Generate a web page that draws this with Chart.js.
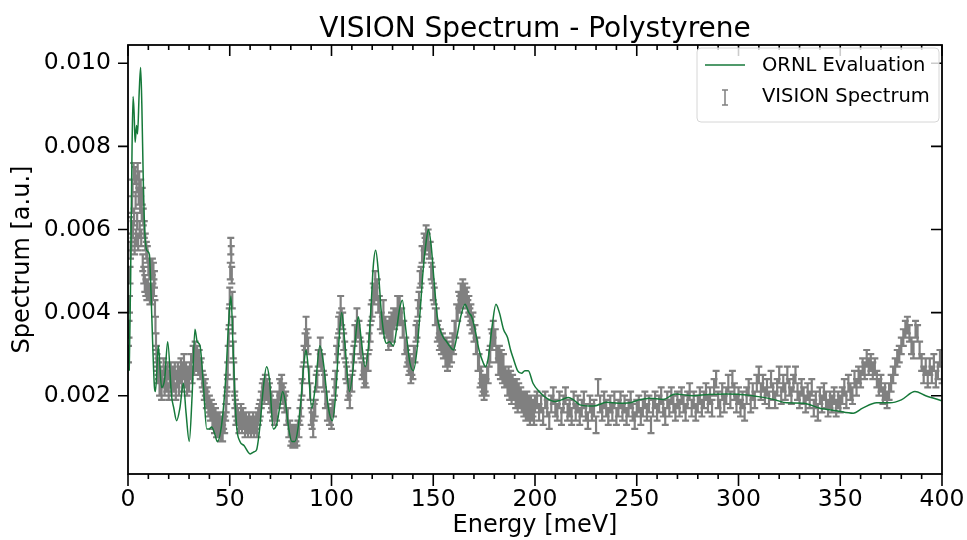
<!DOCTYPE html>
<html><head><meta charset="utf-8">
<script src="https://cdn.jsdelivr.net/npm/chart.js@4.4.1/dist/chart.umd.min.js"></script>
<style>html,body{margin:0;padding:0;background:#fff}#wrap{width:967px;height:540px;position:relative}</style>
</head><body><div id="wrap"><canvas id="c"></canvas></div>
<script>
const chartTitle = 'VISION Spectrum - Polystyrene';
const xAxisLabel = 'Energy [meV]';
const yAxisLabel = 'Spectrum [a.u.]';
const xMajorTicks = [0, 50, 100, 150, 200, 250, 300, 350, 400];
const xMinorTicks = [10,20,30,40,60,70,80,90,110,120,130,140,160,170,180,190,210,220,230,240,260,270,280,290,310,320,330,340,360,370,380,390];
const yMajorTicks = [0.002, 0.004, 0.006, 0.008, 0.010];
const ornlLabel = 'ORNL Evaluation';
const visionLabel = 'VISION Spectrum';

// ORNL evaluation curve: [energy meV, spectrum a.u.]
const ornlCurve = [
[0.6,0.0026],[1.2,0.0045],[2.0,0.0080],[2.5,0.0092],[3.0,0.0088],[3.5,0.0081],[4.2,0.0085],[4.7,0.0083],[5.5,0.0093],[6.2,0.0099],[6.8,0.0090],[7.5,0.0072],[8.2,0.0060],[9.2,0.0055],[10.5,0.0054],[11.3,0.0045],[12.1,0.0033],[13.0,0.0022],[13.5,0.0021],[14.9,0.0032],[16.5,0.0022],[18,0.0024],[19.5,0.0033],[21.4,0.0020],[22.5,0.0017],[23.9,0.0014],[25.5,0.0017],[27.2,0.0023],[28.5,0.0016],[30.1,0.0009],[31.5,0.0020],[32.9,0.0036],[34,0.0033],[35.4,0.0032],[37,0.0023],[38.7,0.0012],[40,0.0012],[41.1,0.00125],[42.5,0.0011],[43.9,0.0009],[46,0.0013],[48,0.0024],[49.5,0.0038],[50.6,0.0044],[51.6,0.0032],[52.6,0.0019],[53.5,0.0012],[55,0.0009],[57,0.0008],[60,0.0006],[62,0.00065],[63.2,0.0007],[64.9,0.0013],[66.5,0.0022],[68.1,0.0027],[69.5,0.0024],[71.4,0.0012],[73,0.0013],[74.5,0.0017],[76,0.0021],[77.5,0.0018],[79,0.0012],[80.5,0.0009],[82,0.0009],[83.5,0.0012],[85,0.0019],[86.5,0.0028],[87.5,0.0031],[88.5,0.0027],[90.3,0.0017],[92,0.0022],[94.3,0.0032],[96,0.0028],[98.5,0.0017],[100.4,0.0014],[102,0.0020],[103.5,0.0032],[105,0.0040],[106.5,0.0033],[108.8,0.0021],[110.5,0.0026],[112,0.0035],[113.2,0.0039],[114.5,0.0034],[116.5,0.0027],[118,0.0031],[119.5,0.0042],[120.5,0.0051],[121.7,0.0055],[123,0.0050],[124.5,0.0040],[126,0.0034],[127.1,0.00326],[128.5,0.0033],[130.4,0.0032],[132,0.0036],[133.5,0.0041],[134.8,0.0043],[136.5,0.0036],[138.5,0.0028],[140.2,0.0026],[142,0.0031],[143.5,0.0040],[145,0.0050],[146.5,0.0057],[147.6,0.0060],[149,0.0056],[150.5,0.0047],[152,0.0039],[153.3,0.0036],[155,0.0034],[156.6,0.0033],[158,0.0032],[159.9,0.0031],[161.5,0.0034],[163.5,0.0039],[165.6,0.0042],[167.5,0.0040],[168.9,0.0039],[170.5,0.0036],[172.5,0.0031],[174.5,0.0028],[175.7,0.0027],[177,0.0029],[179,0.0037],[180.8,0.0042],[182.5,0.0040],[184.5,0.0036],[186.5,0.0034],[188,0.0031],[189.3,0.0029],[191.5,0.0026],[193.4,0.00254],[195,0.0026],[196.7,0.0026],[199,0.0023],[202,0.0021],[205.7,0.00194],[209.8,0.00186],[213,0.0019],[216.4,0.00196],[219,0.0019],[222.1,0.00178],[228.7,0.00175],[235.2,0.00184],[241,0.00182],[246.7,0.00183],[251,0.0019],[256.5,0.00194],[263,0.00191],[268.8,0.00204],[277.8,0.0020],[285,0.00203],[294.2,0.00204],[304,0.00202],[312.2,0.00196],[318,0.0019],[323.6,0.00183],[331.8,0.00182],[340,0.0017],[348.2,0.00164],[356.4,0.00158],[361,0.0017],[367.9,0.00183],[374.4,0.00183],[380,0.0019],[386.7,0.0021],[392,0.0020],[399.8,0.00188]
];

// VISION measured spectrum: [energy meV, spectrum in units of 1e-4 a.u.]
const visionUnit = 1e-4;
const visionPoints = [
[0.25,30],[0.5,36],[0.75,42],[1,49],[1.25,55],[1.5,61],[1.75,57],[2,66],[2.25,70],[2.5,60],[2.75,74],[3,63],[3.25,56],[3.5,73],[3.75,67],[4,58],[4.25,71],[4.5,62],[4.75,74],[5,57],[5.25,68],[5.5,72],[5.75,60],[6,66],[6.25,70],[6.5,58],[6.75,64],[7,68],[7.25,52],[7.5,63],[7.75,49],[8,60],[8.25,47],[8.5,57],[8.75,46],[9,55],[9.25,45],[9.5,54],[9.75,46],[10,51],[10.25,45],[10.5,50],[10.75,44],[11,51],[11.25,45],[11.5,50],[11.75,44],[12,51],[12.25,45],[12.5,50],[12.75,46],[13,48],[13.25,41],[13.5,37],[13.75,33],[14,30],[14.25,28],[14.5,25],[14.75,27],
[15,26],[15.5,22],[16,25],[16.5,21],[17,24],[17.5,27],[18,22],[18.5,25],[19,23],[19.5,26],[20,21],[20.5,24],[21,26],[21.5,22],[22,25],[22.5,23],[23,26],[23.5,21],[24,24],[24.5,26],[25,22],[25.5,25],[26,27],[26.5,23],[27,26],[27.5,28],[28,24],[28.5,26],[29,22],[29.5,25],[30,23],[30.5,26],[31,28],[31.5,25],[32,30],[32.5,27],[33,31],[33.5,28],[34,30],[34.5,27],[35,29],[35.5,26],[36,27],[36.5,24],[37,23],[37.5,21],[38,22],[38.5,19],[39,20],[39.5,17],[40,18],[40.5,16],[41,17],[41.5,14],[42,16],[42.5,13],[43,15],[43.5,12],[44,14],[44.5,12],[45,14],[45.5,11],[46,13],[46.5,11],[47,14],[47.5,13],
[48,16],[48.25,18],[48.5,20],[48.75,23],[49,26],[49.25,30],[49.5,34],[49.75,39],[50,44],[50.25,50],[50.5,56],[50.75,54],[51,49],[51.25,43],[51.5,37],[51.75,31],[52,26],[52.25,22],[52.5,19],[52.75,17],[53,15],[53.5,16],
[54,15],[54.5,13],[55,14],[55.5,16],[56,13],[56.5,15],[57,14],[57.5,12],[58,14],[58.5,13],[59,12],[59.5,14],[60,13],[60.5,12],[61,13],[61.5,14],[62,12],[62.5,13],[63,14],[63.5,12],[64,15],[64.5,16],[65,17],[65.5,19],
[66,21],[66.5,22],[67,20],[67.5,23],[68,21],[68.5,22],[69,20],[69.5,21],[70,18],[70.5,19],[71,16],[71.5,17],[72,15],[72.5,17],[73,16],[73.5,19],[74,19],[74.5,22],[75,21],[75.5,23],[76,20],[76.5,21],[77,18],[77.5,19],[78,15],[78.5,15],[79,12],[79.5,12],[80,10],[80.5,11],[81,9.5],[81.5,10.5],[82,9.5],[82.5,11],[83,10],[83.5,12],[84,12],[84.5,15],[85,17],[85.5,22],[86,25],[86.5,30],[87,33],[87.5,37],[88,34],[88.5,32],[89,25],[89.5,21],[90,15],[90.5,14],[91,12],[91.5,16],[92,17],[92.5,23],[93,24],[93.5,29],[94,29],[94.5,32],[95,28],[95.5,28],[96,24],[96.5,23],[97,19],[97.5,19],[98,16],[98.5,16],[99,15],[99.5,15],[100,14],[100.5,17],
[101,17],[101.5,22],[102,24],[102.5,30],[103,32],[103.5,37],[104,38],[104.5,42],[105,39],[105.5,38],[106,33],[106.5,31],[107,26],[107.5,25],[108,21],[108.5,22],[109,19],[109.5,23],[110,23],[110.5,28],[111,30],[111.5,35],[112,35],[112.5,39],[113,36],[113.5,36],[114,32],[114.5,31],[115,26],[115.5,27],[116,24],[116.5,25],[117,24],[117.5,28],[118,28],[118.5,33],[119,35],[119.5,40],[120,41],[120.5,45],[121,44],[121.5,48],[122,45],[122.5,46],[123,42],[123.5,42],[124,38],[124.5,38],[125,37],[125.5,41],[126,37],[126.5,37],[127,36],[127.5,36],[128,33],[128.5,37],[129,34],[129.5,38],[130,35],[130.5,39],[131,38],[131.5,39],[132,39],[132.5,42],[133,39],[133.5,42],[134,39],[134.5,39],[135,36],[135.5,36],[136,32],[136.5,32],[137,29],[137.5,30],[138,27],[138.5,28],[139,25],[139.5,27],[140,26],[140.5,30],[141,30],[141.5,35],[142,36],[142.5,41],[143,43],[143.5,48],[144,49],[144.5,54],[145,54],[145.5,57],[146,56],[146.5,59],[147,57],[147.5,58],[148,55],[148.5,55],[149,50],[149.5,49],[150,45],[150.5,44],
[151,39],[151.5,39],[152,35],[152.5,36],[153,33],[153.5,34],[154,32],[154.5,33],[155,31],[155.5,32],[156,29],[156.5,32],[157,28],[157.5,31],[158,29],[158.5,30],[159,30],[159.5,33],[160,32],[160.5,36],[161,36],[161.5,40],[162,40],[162.5,43],[163,42],[163.5,45],[164,43],[164.5,46],[165,44],[165.5,45],[166,43],[166.5,44],[167,41],[167.5,42],[168,39],[168.5,40],[169,37],[169.5,38],[170,35],[170.5,35],[171,32],[171.5,32],[172,28],[172.5,28],[173,24],[173.5,25],[174,22],[174.5,23],[175,21],[175.5,23],[176,22],[176.5,25],[177,25],[177.5,29],[178,30],[178.5,34],[179,33],[179.5,36],[180,34],[180.5,34],[181,30],[181.5,30],[182,27],[182.5,30],[183,26],[183.5,29],[184,25],[184.5,28],[185,24],[185.5,25],[186,24],[186.5,22],[187,25],[187.5,21],[188,24],[188.5,20],[189,23],[189.5,21],[190,22],[190.5,19],[191,22],[191.5,18],[192,21],[192.5,19],[193,20],[193.5,18],[194,19],[194.5,17],[195,19],[195.5,16],[196,19],[196.5,16],[197,18],[197.5,15],[198,18],[198.5,16],[199,17],[199.5,15],[200,18],
[201,19],[202,16],[203,18],[204,15],[205,19],[206,17],[207,14],[208,18],[209,20],[210,17],[211,16],[212,19],[213,15],[214,18],[215,20],[216,16],[217,17],[218,15],[219,19],[220,16],[221,18],[222,15],[223,17],[224,19],[225,16],[226,14],[227,18],[228,16],[229,17],[230,13],[231,22],[232,18],[233,16],[234,19],[235,17],[236,15],[237,18],[238,16],[239,19],[240,15],[241,17],[242,19],[243,16],[244,18],[245,15],[246,17],[247,19],[248,16],[249,14],[250,17],
[251,18],[252,15],[253,17],[254,19],[255,16],[256,18],[257,13],[258,17],[259,19],[260,16],[261,18],[262,20],[263,17],[264,15],[265,19],[266,17],[267,20],[268,18],[269,16],[270,19],[271,17],[272,20],[273,18],[274,16],[275,19],[276,21],[277,17],[278,19],[279,16],[280,18],[281,20],[282,17],[283,19],[284,21],[285,18],[286,20],[287,17],[288,22],[289,24],[290,19],[291,17],[292,21],[293,18],[294,20],[295,23],[296,19],[297,24],[298,21],[299,18],[300,20],
[301,17],[302,19],[303,16],[304,20],[305,22],[306,18],[307,21],[308,19],[309,23],[310,25],[311,21],[312,23],[313,20],[314,22],[315,19],[316,24],[317,21],[318,19],[319,22],[320,25],[321,20],[322,23],[323,21],[324,25],[325,22],[326,20],[327,23],[328,25],[329,21],[330,19],[331,22],[332,20],[333,18],[334,21],[335,19],[336,22],[337,17],[338,19],[339,16],[340,20],[341,18],[342,21],[343,19],[344,17],[345,19],[346,18],[347,20],[348,17],[349,19],[350,18],
[351,20],[352,22],[353,19],[354,23],[355,21],[356,20],[357,24],[358,22],[359,25],[360,24],[361,27],[362,26],[363,29],[364,27],[365,28],[366,26],[367,27],[368,24],[369,22],[370,23],[371,20],[372,21],[373,19],[374,21],[375,23],[376,25],[377,27],[378,29],[379,30],[380,32],[381,34],[382,36],[383,37],[384,35],[385,32],[386,31],[387,36],[388,35],[389,31],[390,28],[391,25],[392,27],[393,24],[394,27],[395,25],[396,28],[397,24],[398,26],[399,29],[400,25]
];
const visionError = 0.0002;

const FONT = 'DejaVu Sans';
const GREEN = '#16793a';
const GRAY = '#808080';

const errorBarPlugin = {
  id: 'errorBars',
  beforeDatasetsDraw(chart) {
    const {ctx, chartArea: a, scales: {x, y}} = chart;
    const ds = chart.data.datasets[1];
    ctx.save();
    ctx.beginPath(); ctx.rect(a.left, a.top, a.right - a.left, a.bottom - a.top); ctx.clip();
    ctx.strokeStyle = ds.borderColor; ctx.lineWidth = 2.2;
    ctx.beginPath();
    for (const p of ds.data) {
      const px = x.getPixelForValue(p.x);
      const t = y.getPixelForValue(p.y + p.err), b = y.getPixelForValue(p.y - p.err);
      ctx.moveTo(px, t); ctx.lineTo(px, b);
      ctx.moveTo(px - 3.5, t); ctx.lineTo(px + 3.5, t);
      ctx.moveTo(px - 3.5, b); ctx.lineTo(px + 3.5, b);
    }
    ctx.stroke();
    ctx.restore();
  }
};

const framePlugin = {
  id: 'frameTicks',
  afterDatasetsDraw(chart) {
    const {ctx, chartArea: a, scales: {x, y}} = chart;
    ctx.save();
    ctx.strokeStyle = '#000'; ctx.lineWidth = 1.6;
    ctx.beginPath();
    for (const v of xMajorTicks) {
      const px = x.getPixelForValue(v);
      ctx.moveTo(px, a.bottom); ctx.lineTo(px, a.bottom + 12);
      ctx.moveTo(px, a.top); ctx.lineTo(px, a.top + 11);
    }
    for (const v of xMinorTicks) {
      const px = x.getPixelForValue(v);
      ctx.moveTo(px, a.bottom); ctx.lineTo(px, a.bottom + 5);
      ctx.moveTo(px, a.top); ctx.lineTo(px, a.top + 5);
    }
    for (const v of yMajorTicks) {
      const py = y.getPixelForValue(v);
      ctx.moveTo(a.left, py); ctx.lineTo(a.left - 10, py);
      ctx.moveTo(a.right, py); ctx.lineTo(a.right - 11, py);
    }
    ctx.stroke();
    ctx.lineWidth = 1.8;
    ctx.strokeRect(a.left, a.top, a.right - a.left, a.bottom - a.top);
    ctx.restore();
  },
  afterDraw(chart) {
    const {ctx, chartArea: a} = chart;
    ctx.save();
    ctx.fillStyle = '#000';
    ctx.font = '28px "' + FONT + '"';
    ctx.textAlign = 'center'; ctx.textBaseline = 'alphabetic';
    ctx.fillText(chartTitle, (a.left + a.right) / 2, 37);
    const lx = 697, ly = 48, lw = 242, lh = 74, r = 4;
    ctx.beginPath();
    ctx.moveTo(lx + r, ly); ctx.lineTo(lx + lw - r, ly); ctx.quadraticCurveTo(lx + lw, ly, lx + lw, ly + r);
    ctx.lineTo(lx + lw, ly + lh - r); ctx.quadraticCurveTo(lx + lw, ly + lh, lx + lw - r, ly + lh);
    ctx.lineTo(lx + r, ly + lh); ctx.quadraticCurveTo(lx, ly + lh, lx, ly + lh - r);
    ctx.lineTo(lx, ly + r); ctx.quadraticCurveTo(lx, ly, lx + r, ly);
    ctx.closePath();
    ctx.fillStyle = 'rgba(255,255,255,0.8)'; ctx.fill();
    ctx.strokeStyle = '#d6d6d6'; ctx.lineWidth = 1; ctx.stroke();
    const d0 = chart.data.datasets[0], d1 = chart.data.datasets[1];
    ctx.strokeStyle = d0.borderColor; ctx.lineWidth = 1.5;
    ctx.beginPath(); ctx.moveTo(705, 65); ctx.lineTo(745, 65); ctx.stroke();
    ctx.strokeStyle = d1.borderColor; ctx.lineWidth = 1.5;
    ctx.beginPath();
    ctx.moveTo(725, 90); ctx.lineTo(725, 105);
    ctx.moveTo(722, 90); ctx.lineTo(728, 90);
    ctx.moveTo(722, 105); ctx.lineTo(728, 105);
    ctx.stroke();
    ctx.fillStyle = '#000';
    ctx.font = '19.5px "' + FONT + '"';
    ctx.textAlign = 'left'; ctx.textBaseline = 'middle';
    ctx.fillText(d0.label, 762, 66);
    ctx.fillText(d1.label, 762, 97);
    ctx.restore();
  }
};

Chart.defaults.color = '#000';
Chart.defaults.font.family = FONT;

new Chart(document.getElementById('c'), {
  type: 'line',
  data: {
    datasets: [
      {
        label: ornlLabel,
        data: ornlCurve.map(([e, v]) => ({x: e, y: v})),
        borderColor: GREEN, borderWidth: 1.5,
        pointRadius: 0, cubicInterpolationMode: 'monotone', fill: false
      },
      {
        label: visionLabel,
        data: visionPoints.map(([e, v]) => ({x: e, y: v * visionUnit, err: visionError})),
        borderColor: GRAY, backgroundColor: GRAY,
        showLine: false, pointRadius: 0
      }
    ]
  },
  options: {
    responsive: true, maintainAspectRatio: false, animation: false, devicePixelRatio: 1,
    layout: {padding: {top: 45, right: 25, left: 0, bottom: 0}},
    plugins: {legend: {display: false}, tooltip: {enabled: false}, title: {display: false}},
    scales: {
      x: {
        type: 'linear', min: 0, max: 400,
        grid: {display: false, drawTicks: false},
        border: {display: false},
        afterBuildTicks: s => { s.ticks = xMajorTicks.map(v => ({value: v})); },
        afterFit: s => { s.height = 66; s.paddingLeft = 0; s.paddingRight = 0; },
        ticks: {font: {size: 23.5, lineHeight: 1.2}, padding: 12, maxRotation: 0, autoSkip: false},
        title: {display: true, text: xAxisLabel, font: {size: 24, lineHeight: 1.2}, padding: {top: 0, bottom: 0}}
      },
      y: {
        type: 'linear', min: 0.000116, max: 0.01044,
        grid: {display: false, drawTicks: false},
        border: {display: false},
        afterBuildTicks: s => { s.ticks = yMajorTicks.map(v => ({value: v})); },
        afterFit: s => { s.width = 128; s.paddingTop = 0; s.paddingBottom = 0; },
        ticks: {font: {size: 23.5, lineHeight: 1.2}, padding: 17, callback: v => v.toFixed(3)},
        title: {display: true, text: yAxisLabel, font: {size: 24, lineHeight: 1.2}, padding: {top: 8, bottom: 0}}
      }
    }
  },
  plugins: [errorBarPlugin, framePlugin]
});
</script></body></html>
